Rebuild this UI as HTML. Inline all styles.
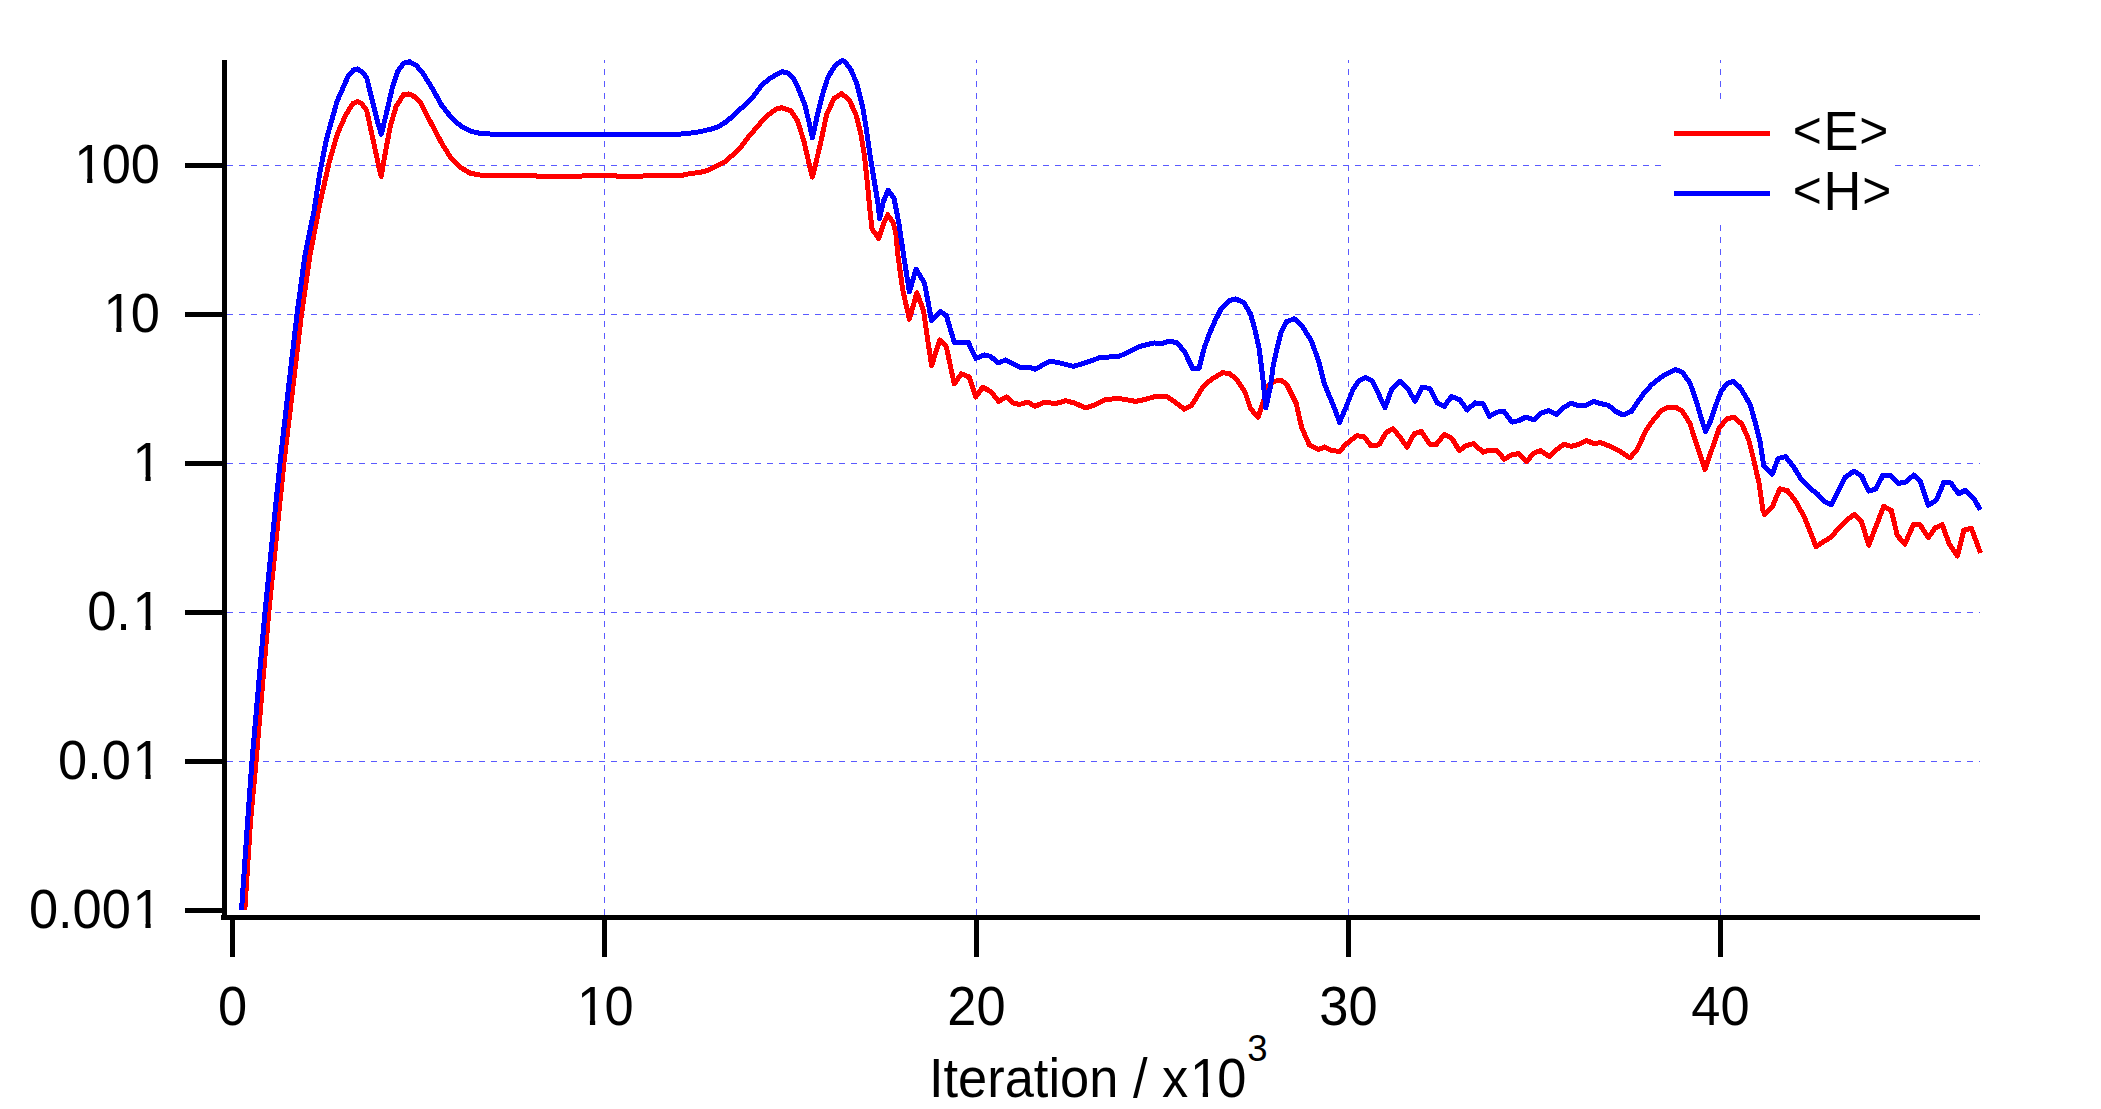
<!DOCTYPE html><html><head><meta charset="utf-8"><title>Iteration plot</title>
<style>html,body{margin:0;padding:0;background:#fff;overflow:hidden}svg{display:block}text{font-family:"Liberation Sans", Arial, sans-serif;fill:#000}</style></head><body>
<svg width="2101" height="1109" viewBox="0 0 2101 1109">
<rect width="2101" height="1109" fill="#fff"/>
<defs><clipPath id="pc"><rect x="227" y="0" width="1800" height="910"/></clipPath></defs>
<path d="M227 165.5H1980M227 314.5H1980M227 463.5H1980M227 612.5H1980M227 761.5H1980M604.5 915V60M976.5 915V60M1348.5 915V60M1720.5 915V60" stroke="rgb(90,90,255)" stroke-width="1" stroke-dasharray="6 6" fill="none"/>
<g clip-path="url(#pc)" fill="none" stroke-width="5" stroke-linejoin="round" stroke-linecap="butt" shape-rendering="crispEdges">
<polyline points="244.8,910 250.6,820 256.1,761 262.4,686 268.8,612 276.4,537 283.9,463 292.8,388 301.5,314 310,255 319.5,205.3 329.3,161.7 337.6,133.3 346,114.4 353,103.5 357.6,101.5 362,104 366.7,110.6 373.3,140.9 379,167.4 381.3,176.5 384.7,156 390.4,125.8 396,106.8 403.6,94.5 408.4,94 413,95.5 420.7,103 430.2,121.5 441.5,142.8 451,158 460.5,167.4 470,173.1 479.4,175 495.7,175.4 562.9,176.4 612.9,175.4 618.6,176.4 681.4,175.4 690,173.6 699,172.6 708,170.3 717,165.8 724.3,162.2 730.6,156.8 736.9,151.4 742.3,145.1 747.7,137.9 753.1,131.6 758.5,125.2 764.8,118 771.2,112.6 776.6,109 782,107.7 790.6,110.6 797.2,120 803.9,140.9 808.6,161.7 812.4,177 816.2,161.7 821.9,137.1 826.6,114.4 834.2,98.3 841.7,93.6 849.3,100.2 855.9,114.4 860.7,133.3 864.5,156.1 867.3,182.6 870.2,212.9 872,229 878.7,238.4 883.4,224.2 887.6,214.8 892.9,222.3 895.7,231.8 898,255.8 902.7,289.8 909.4,319.2 916.9,292.7 923.6,310.7 927.3,337.2 931.6,365.7 939.7,340 946.3,346.7 950.4,366 954.3,383.9 961.4,373.8 969.3,377.1 975.7,397.1 982.9,387.1 991.4,392.1 998.6,401.4 1006.4,396.9 1014.3,403.6 1020,404.3 1027.9,402.1 1035,406.4 1044.3,402.1 1055.7,403.6 1065.7,400.7 1074.3,402.9 1085.7,408 1094.3,405 1104.3,400 1117.1,398.3 1124.3,399.3 1135.7,401.4 1142.9,400 1157.1,396 1167.1,396.9 1174.3,401.4 1184.3,409.3 1191.4,405.7 1202.9,387.1 1211.4,379.3 1222.5,372.7 1230,373.7 1237.3,380.4 1244.9,391.7 1250.6,408.8 1258.2,417.3 1262.9,403.1 1267.7,386.1 1274.3,381.3 1280.9,380 1286.6,384.2 1296.1,403.1 1301.7,427.7 1309.3,444.8 1318.8,449.5 1324.5,447 1332,450.5 1339.6,451.4 1345.3,444.8 1356.7,435.7 1364.2,436.8 1370.9,445.7 1376.5,445.7 1380,443.6 1385.7,432.9 1392.9,428.6 1400,437.1 1407.1,447.1 1414.3,433.6 1421.4,431.4 1430,444.3 1436.4,444.3 1444.3,434.3 1452.1,438.6 1459.3,450.7 1465.7,445.7 1473.6,443.6 1482.9,452.1 1488.6,450.4 1497.1,450.7 1504.3,459.3 1511.4,455 1518.6,453.6 1526.4,461.4 1534.3,452.9 1540.7,450.7 1549.3,456.4 1557.1,449.3 1563.6,444.3 1571.4,446.4 1578.6,444.3 1586.4,440.4 1593.6,443.6 1600.7,442.6 1608.6,445.7 1620,451.4 1630,457.9 1637.1,449.3 1642.9,437.1 1647.1,428.6 1654.3,418.6 1661.4,410.7 1668.6,407.1 1675.7,407.3 1682.3,411.1 1689.9,423.4 1695.6,441.4 1701.3,458.5 1705,469.5 1710.7,452.8 1719.2,428.2 1726.8,418.7 1734.4,417.2 1742,424.4 1748.6,439.5 1754.3,462.3 1759,483.1 1762.8,509.6 1764.7,514.4 1772.3,506.8 1779.8,488.8 1787.4,490.7 1795,500.2 1804.5,517.2 1816,546.6 1823.4,541.8 1831,537.1 1840,526.8 1847.6,519.2 1854.6,514.4 1861.6,521.9 1868.7,545.2 1876.2,525.7 1883.8,506.3 1891.4,510.6 1897.3,535.5 1904.9,544.1 1913.6,524.1 1920,524.6 1928.2,537.6 1935.2,527.9 1942.2,524.6 1949.3,544.1 1957.4,556 1963.9,530 1971.4,528.4 1980.5,553" stroke="#f00"/>
<polyline points="241.5,910 247.7,820 252,761 258.5,686 265,612 272.5,537 280,463 288.5,388 297,314 305,255 314,211 319.8,173 326.5,139 337,101.5 348,76.5 353.5,70 357.6,69 362,71.8 366.7,77.5 371.4,97.3 377.1,120 381.3,134.3 386.6,112.5 392.3,87.9 398,70.8 403.6,63.3 409.3,61.7 416,65.2 422.6,72.8 432,87.8 441.5,105 451,117.2 460.5,125.8 470,131 479.4,133.3 490,134 518.6,135 541.4,134.3 567,135 592.9,134.3 618.6,135 655.7,134.5 681.4,134 695.7,132.5 704.3,130.7 712.9,128.6 718,126.9 725.2,122.4 732.5,116.5 739.7,109.6 746.9,103.3 754.1,95.4 761.3,85.7 768.5,79.4 775.7,74.9 782.1,71.7 788.4,73.1 793.8,78.9 798.2,88 804.8,104.9 809.5,123.9 812.4,138 817.1,116.3 822.8,93.6 827.5,78.5 830.6,72.8 835.1,65.5 839.6,62.2 842.5,60.3 845.9,62.8 851.3,70.3 856.9,84.1 862.6,106.8 866.4,129.5 870.2,156.1 873.9,178.8 877.7,201.5 879.6,218.5 883.4,201.5 888.1,190.2 894,198 898.9,223.6 903.7,255.8 909.4,292 916,269 924.5,283.2 928.3,303.1 931.5,320.4 940.2,311.6 946.3,315.4 951,331.5 954.5,342.9 968.5,342.7 971,348.6 975.7,358.3 984.3,355 990.7,356.4 997.9,362.9 1005.7,360 1020,367.1 1028.6,367.1 1035,369.3 1050,361.1 1058.6,362.6 1073.6,366.4 1085.7,362.6 1101.4,357.1 1117.1,356.9 1125.7,353.6 1140,346.4 1154.3,342.9 1161.4,343.6 1169.3,341.1 1177.1,342.9 1184.3,351.4 1193,369 1199,368.3 1204.2,348.2 1208.9,334.9 1214.6,321.7 1221.3,308.4 1228.8,300.8 1235.5,298.9 1244,302.7 1250.6,314.1 1255.3,331.1 1259.1,348.2 1262.9,378.5 1265.8,408 1270.5,386.1 1273.3,365.2 1277.1,348.2 1280.9,333 1286.6,321.7 1294.2,318.8 1301.7,325.5 1311.2,340.6 1318.8,361.4 1324.5,384.2 1333.9,406.9 1339.6,422.3 1345.3,408.8 1352.9,389.8 1358.6,381.3 1365.2,377.5 1371.8,380.4 1378.4,393.6 1385,407.9 1391.4,390 1400,381.4 1407.9,388.6 1415,401.4 1422.1,387.1 1430,388.6 1437.1,402.9 1444.3,406.4 1451.4,396.4 1460,400 1467.1,410 1475,402.9 1482.9,403.6 1489.3,416.4 1497.1,412.1 1503.6,411.1 1512.1,422.1 1518.6,420.7 1525.7,417.1 1534.3,420 1541.4,412.9 1548.6,410.7 1556.4,414.3 1564.3,407.1 1571.4,403.1 1577.1,405.4 1585.7,405.4 1593.6,401.4 1600.7,403.6 1608.6,405.4 1615.7,411.4 1622.9,415 1631.4,411.4 1637.1,402.9 1644.3,392.9 1651.4,385 1660,377.9 1667.1,373.6 1675.5,369.5 1682.3,372.3 1689.9,382.7 1696.5,401.7 1701.3,418.7 1705.5,431.5 1710.7,420.6 1716.4,403.6 1721.1,391.3 1726.8,383.7 1733.4,381.5 1740.1,387.5 1745.8,396.9 1750.5,405.5 1755.2,422.5 1760,441.4 1763.8,466.1 1772.3,474.3 1778,458.5 1785.5,456.6 1793.1,466.1 1800.7,478.4 1812.4,490.3 1817.9,494.3 1823.4,500.8 1831,504.9 1838.6,490.7 1845.4,477 1854.1,471.1 1861.6,476 1868.7,491.1 1875.7,488.9 1882.7,475.7 1890.8,475.7 1898.4,483.5 1906,481.9 1913.6,475.1 1920.6,481.9 1928.2,505.2 1936.3,500.3 1943.9,482.2 1950.9,483 1958.5,493.8 1965.5,490.2 1974.1,498.7 1980.2,510" stroke="#00f"/>
</g>
<path d="M224.5 60V920M221 917.5H1980M185 165.5H224M185 314.5H224M185 463.5H224M185 612.5H224M185 761.5H224M185 910.5H224M232.5 920V957M604.5 920V957M976.5 920V957M1348.5 920V957M1720.5 920V957" stroke="#000" stroke-width="5" fill="none"/>
<text transform="translate(160,182.5) scale(1,1.06)" x="-85.73 -58.28 -29.14" font-size="52.4">100</text>
<text transform="translate(160,331.5) scale(1,1.06)" x="-56.58 -29.14" font-size="52.4">10</text>
<text transform="translate(160,480.5) scale(1,1.06)" x="-27.44" font-size="52.4">1</text>
<text transform="translate(160,629.5) scale(1,1.06)" x="-72.84 -43.70 -27.44" font-size="52.4">0.1</text>
<text transform="translate(160,778.5) scale(1,1.06)" x="-101.99 -72.84 -58.28 -27.44" font-size="52.4">0.01</text>
<text transform="translate(160,927.5) scale(1,1.06)" x="-131.13 -101.99 -87.43 -58.28 -27.44" font-size="52.4">0.001</text>
<text transform="translate(232.5,1025.2) scale(1,1.06)" font-size="52.4" text-anchor="middle">0</text>
<text transform="translate(604.5,1025.2) scale(1,1.06)" x="-27.44 0.00" font-size="52.4">10</text>
<text transform="translate(976.5,1025.2) scale(1,1.06)" font-size="52.4" text-anchor="middle">20</text>
<text transform="translate(1348.5,1025.2) scale(1,1.06)" font-size="52.4" text-anchor="middle">30</text>
<text transform="translate(1720.5,1025.2) scale(1,1.06)" font-size="52.4" text-anchor="middle">40</text>
<text transform="translate(929,1097) scale(1,1.05)" x="0.00 14.56 29.12 58.26 75.71 104.85 119.41 131.05 160.19 189.34 203.89 218.45 233.01 260.91 288.35" font-size="52.4">Iteration / x10</text>
<text transform="translate(1247.2,1061) scale(1,1)" font-size="36.5">3</text>
<rect x="77.00" y="177.15" width="10.15" height="6.35" fill="#fff"/><rect x="92.38" y="177.15" width="9.98" height="6.35" fill="#fff"/><rect x="106.14" y="326.15" width="10.15" height="6.35" fill="#fff"/><rect x="121.52" y="326.15" width="9.98" height="6.35" fill="#fff"/><rect x="135.28" y="475.15" width="10.15" height="6.35" fill="#fff"/><rect x="150.67" y="475.15" width="9.98" height="6.35" fill="#fff"/><rect x="135.28" y="624.15" width="10.15" height="6.35" fill="#fff"/><rect x="150.67" y="624.15" width="9.98" height="6.35" fill="#fff"/><rect x="135.28" y="773.15" width="10.15" height="6.35" fill="#fff"/><rect x="150.67" y="773.15" width="9.98" height="6.35" fill="#fff"/><rect x="135.28" y="922.15" width="10.15" height="6.35" fill="#fff"/><rect x="150.67" y="922.15" width="9.98" height="6.35" fill="#fff"/><rect x="579.78" y="1019.85" width="10.15" height="6.35" fill="#fff"/><rect x="595.17" y="1019.85" width="9.98" height="6.35" fill="#fff"/><rect x="1192.64" y="1091.69" width="10.15" height="6.31" fill="#fff"/><rect x="1208.02" y="1091.69" width="9.98" height="6.31" fill="#fff"/>
<rect x="1663" y="100" width="229" height="122" fill="#fff"/>
<path d="M1674 133.5H1770" stroke="#f00" stroke-width="5"/>
<path d="M1674 193.5H1770" stroke="#00f" stroke-width="5"/>
<text transform="translate(0,150) scale(1,1.05)" font-size="52.4"><tspan x="1792.80" y="-1.46" font-size="49.78">&lt;</tspan><tspan x="1823.40" y="0">E</tspan><tspan x="1859.35" y="-1.46" font-size="49.78">&gt;</tspan></text>
<text transform="translate(0,210) scale(1,1.05)" font-size="52.4"><tspan x="1792.80" y="-1.46" font-size="49.78">&lt;</tspan><tspan x="1823.40" y="0">H</tspan><tspan x="1862.24" y="-1.46" font-size="49.78">&gt;</tspan></text>
</svg></body></html>
